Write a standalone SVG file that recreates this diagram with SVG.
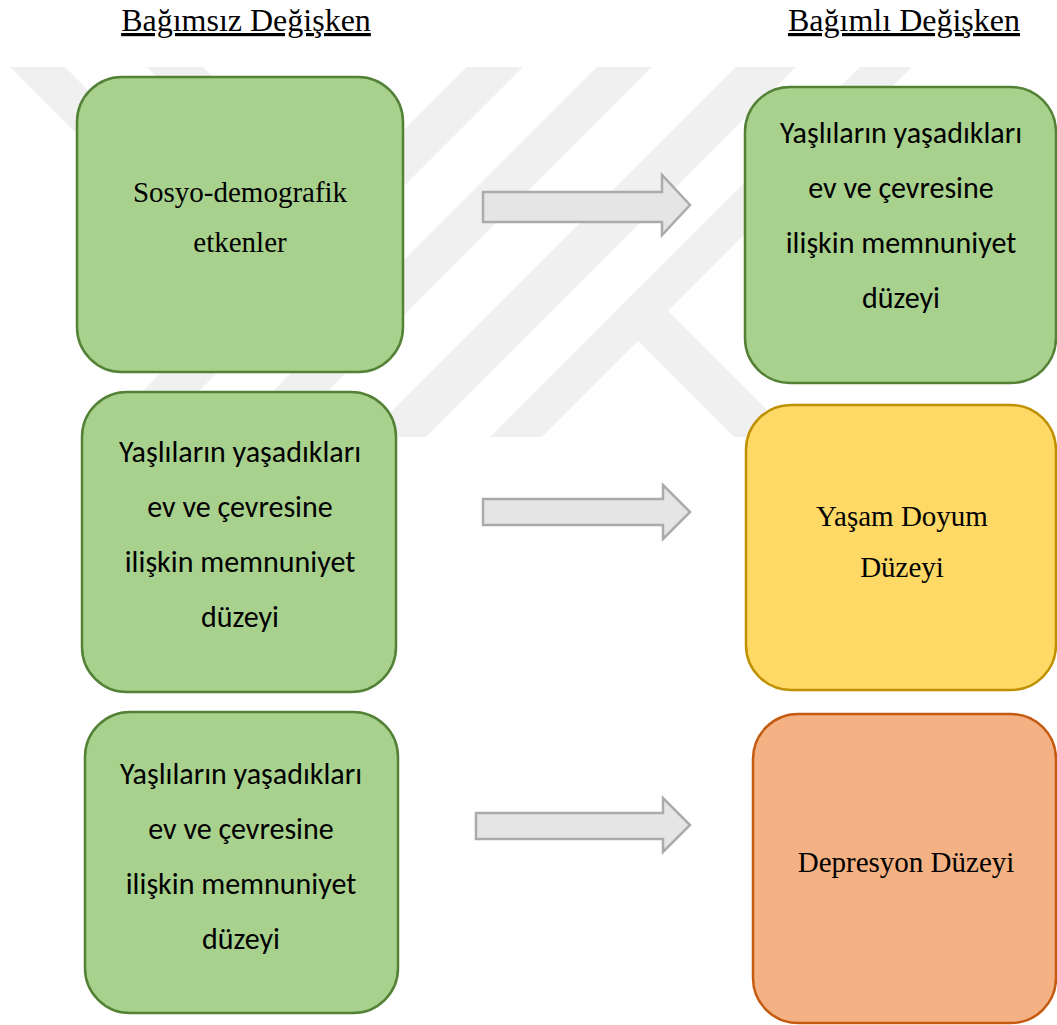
<svg xmlns="http://www.w3.org/2000/svg" width="1057" height="1025" viewBox="0 0 1057 1025">
<style>
.hdr{font-family:"Liberation Serif","Times New Roman",serif;font-size:32px;fill:#000;text-anchor:middle;text-decoration:underline}
.tnr{font-family:"Liberation Serif","Times New Roman",serif;font-size:29px;fill:#000;text-anchor:middle}
.cal{font-family:Carlito,Calibri,Lato,sans-serif;font-size:30px;fill:#000;text-anchor:middle}
.green{fill:#A9D18E;stroke:#538135;stroke-width:2.5}
.yellow{fill:#FFD966;stroke:#BF9000;stroke-width:2.5}
.orange{fill:#F4B183;stroke:#C55A11;stroke-width:2.5}
.arrow{fill:#E5E5E5;stroke:#ABABAB;stroke-width:2.5;stroke-linejoin:miter}
.wm{fill:#F0F0F0}
</style>
<rect width="1057" height="1025" fill="#FFFFFF"/>
<g id="watermark">
<polygon class="wm" points="10,67 65,67 360,362 305,362"/>
<polygon class="wm" points="147,67 203,67 370,234 314,234"/>
<polygon class="wm" points="467,67 523,67 195,395 139,395"/>
<polygon class="wm" points="597,67 652,67 324,395 269,395"/>
<polygon class="wm" points="736,67 796,67 426,437 366,437"/>
<polygon class="wm" points="860,67 912,67 542,437 490,437"/>
<polygon class="wm" points="642,285 794,437 734,437 612,315"/>
</g>
<g id="header-left"><text class="hdr" x="246" y="31">Bağımsız Değişken</text></g>
<g id="header-right"><text class="hdr" x="904" y="31">Bağımlı Değişken</text></g>
<g id="connectors">
<polygon class="arrow" points="483,192 662,192 662,175 690,205 662,235 662,222 483,222"/>
<polygon class="arrow" points="483,499 663,499 663,485 690,512 663,539 663,525 483,525"/>
<polygon class="arrow" points="476,813 663,813 663,798 690,825 663,852 663,839 476,839"/>
</g>
<g id="node-sosyo">
<rect class="green" x="77" y="77" width="326" height="295" rx="45" ry="45"/>
<text class="tnr" x="240" y="202">Sosyo-demografik</text>
<text class="tnr" x="240" y="252">etkenler</text>
</g>
<g id="node-memnuniyet-dep">
<rect class="green" x="745" y="87" width="311" height="296" rx="45" ry="45"/>
<text class="cal" x="901" y="143">Yaşlıların yaşadıkları</text>
<text class="cal" x="901" y="198">ev ve çevresine</text>
<text class="cal" x="901" y="253">ilişkin memnuniyet</text>
<text class="cal" x="901" y="308">düzeyi</text>
</g>
<g id="node-memnuniyet-2">
<rect class="green" x="82" y="392" width="314" height="300" rx="45" ry="45"/>
<text class="cal" x="240" y="462">Yaşlıların yaşadıkları</text>
<text class="cal" x="240" y="517">ev ve çevresine</text>
<text class="cal" x="240" y="572">ilişkin memnuniyet</text>
<text class="cal" x="240" y="627">düzeyi</text>
</g>
<g id="node-yasam">
<rect class="yellow" x="746" y="405" width="310" height="285" rx="45" ry="45"/>
<text class="tnr" x="902" y="526">Yaşam Doyum</text>
<text class="tnr" x="902" y="577">Düzeyi</text>
</g>
<g id="node-memnuniyet-3">
<rect class="green" x="85" y="712" width="313" height="301" rx="45" ry="45"/>
<text class="cal" x="241" y="784">Yaşlıların yaşadıkları</text>
<text class="cal" x="241" y="839">ev ve çevresine</text>
<text class="cal" x="241" y="894">ilişkin memnuniyet</text>
<text class="cal" x="241" y="949">düzeyi</text>
</g>
<g id="node-depresyon">
<rect class="orange" x="753" y="714" width="303" height="309" rx="45" ry="45"/>
<text class="tnr" x="906" y="872">Depresyon Düzeyi</text>
</g>
</svg>
